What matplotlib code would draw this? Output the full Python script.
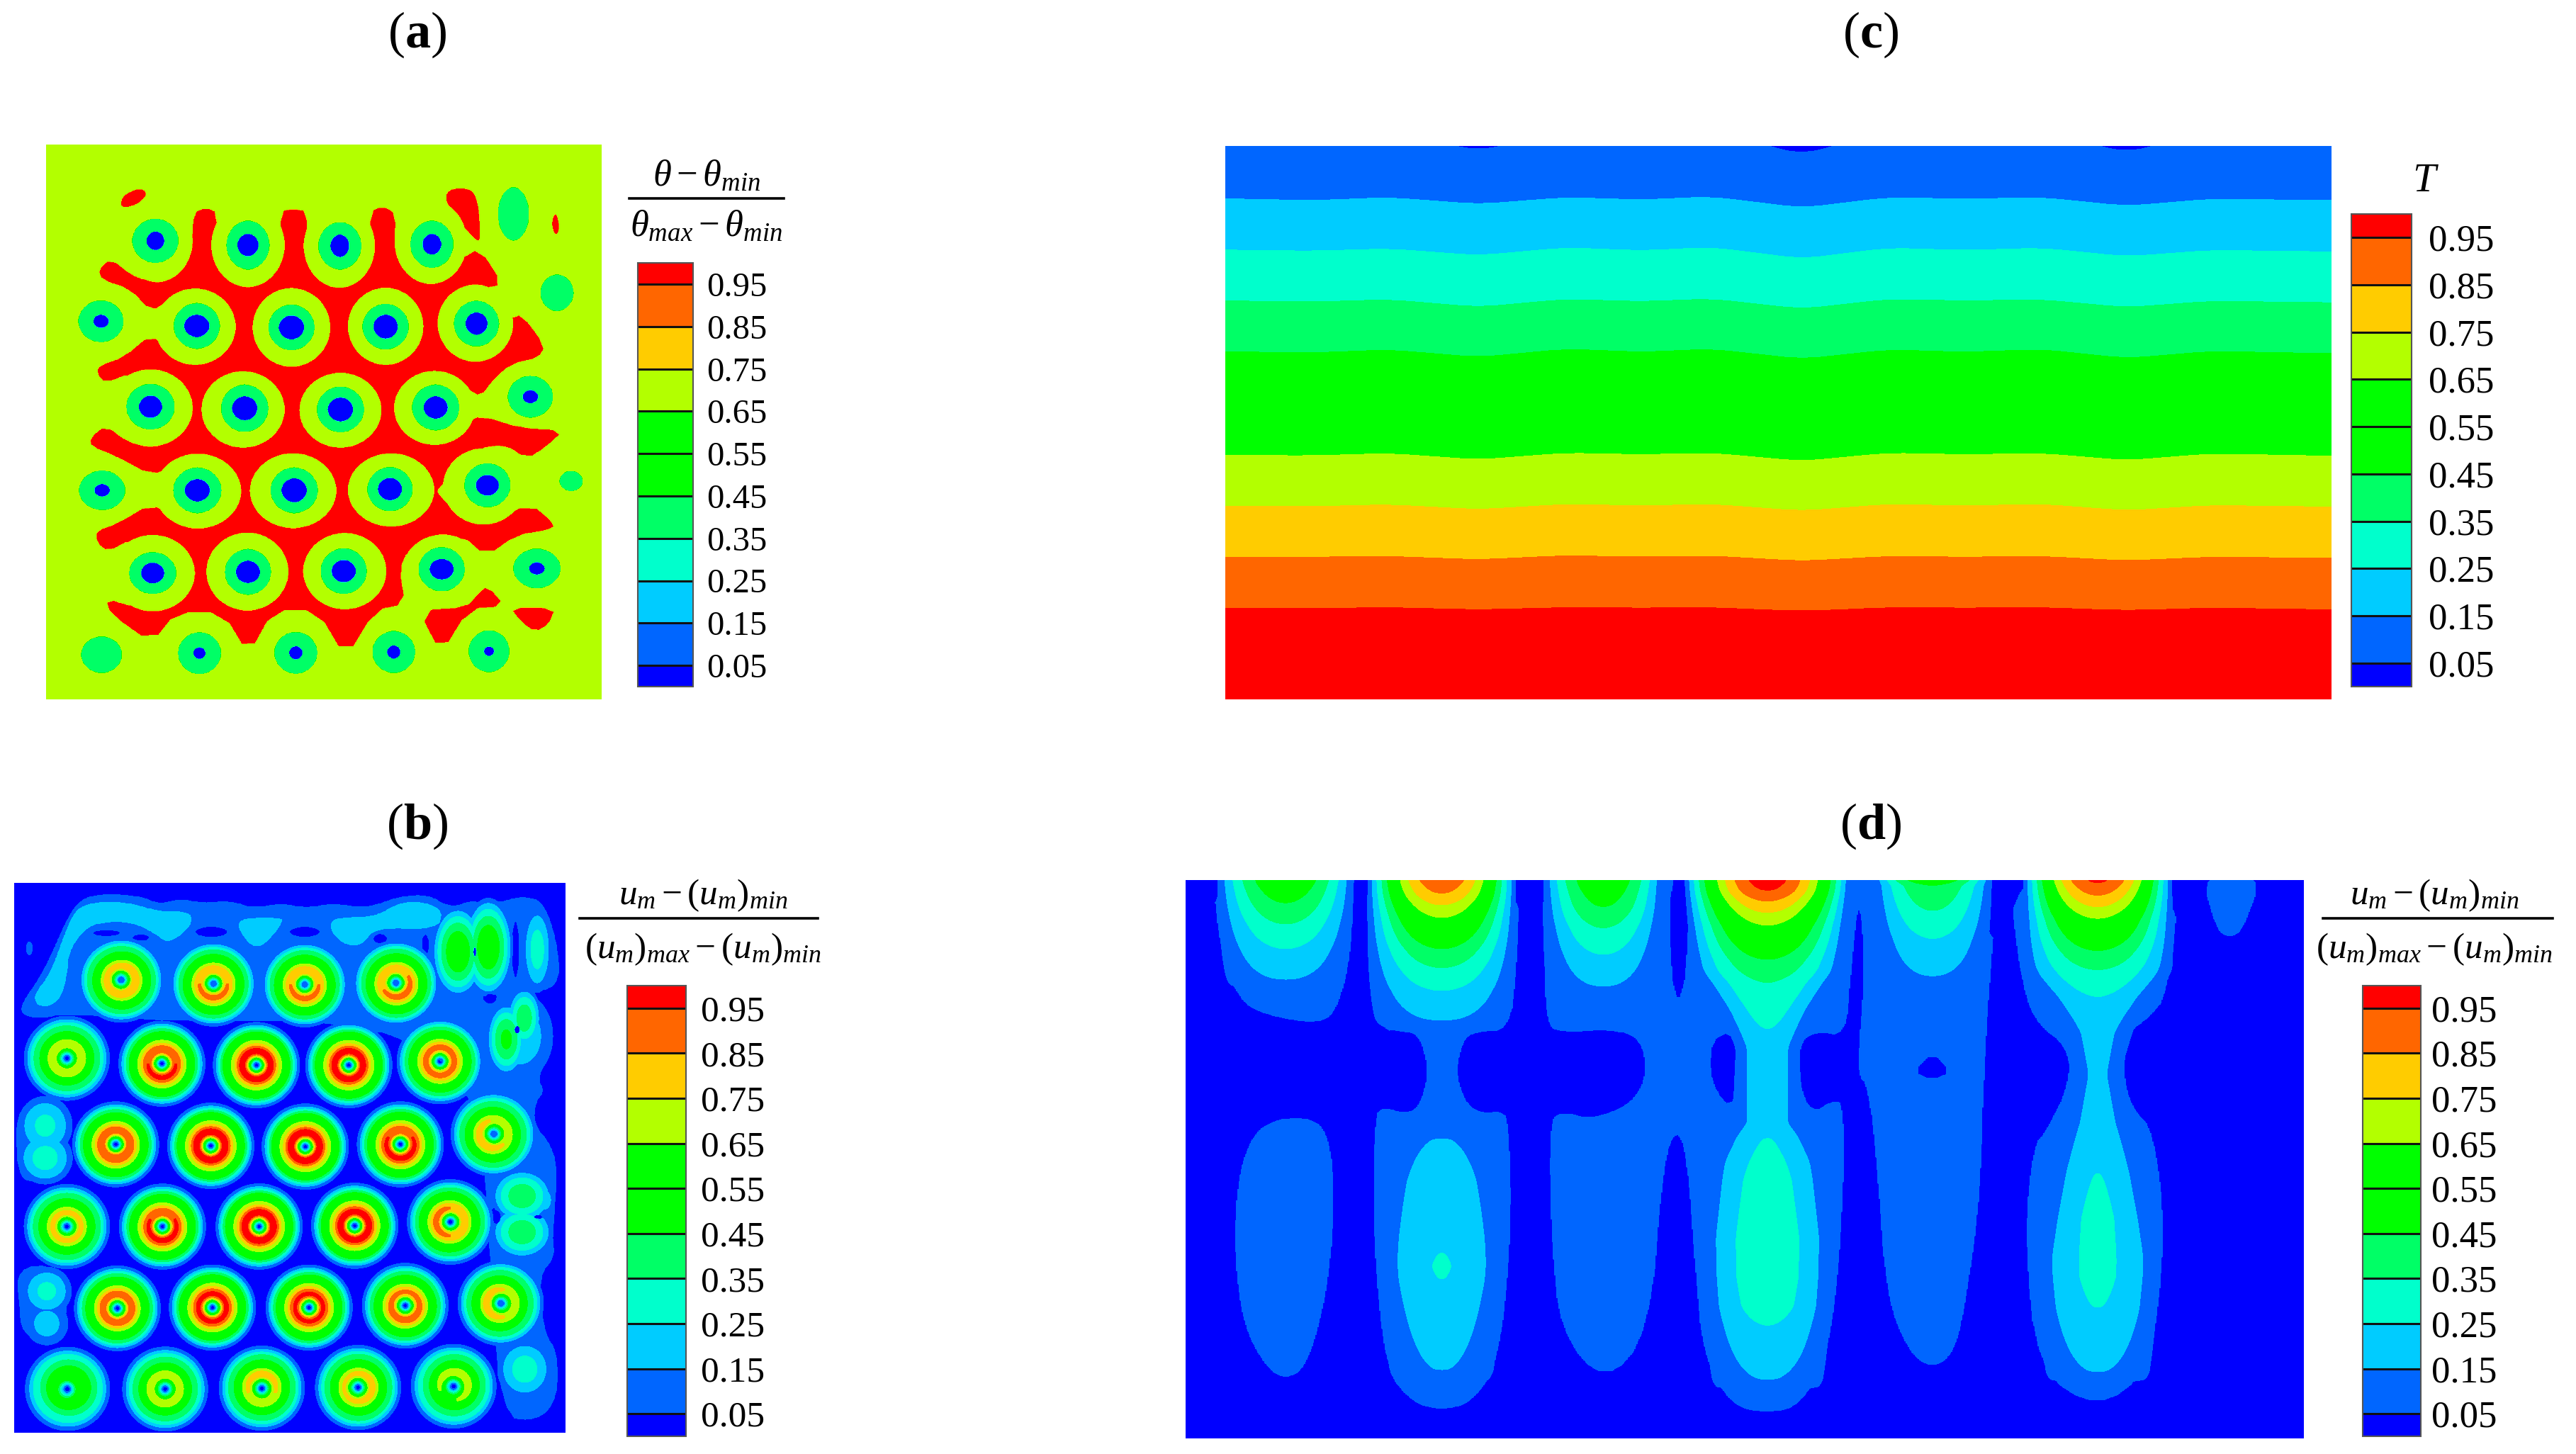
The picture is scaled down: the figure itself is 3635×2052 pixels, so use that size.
#!/usr/bin/env python

import numpy as np
import matplotlib
matplotlib.use('Agg')
import matplotlib.pyplot as plt
from matplotlib.lines import Line2D
from matplotlib.path import Path

plt.rcParams['font.family'] = ['Liberation Serif', 'DejaVu Serif']
plt.rcParams['mathtext.fontset'] = 'custom'
plt.rcParams['mathtext.rm'] = 'Liberation Serif'
plt.rcParams['mathtext.it'] = 'Liberation Serif:italic'
plt.rcParams['mathtext.bf'] = 'Liberation Serif:bold'

FIG_W, FIG_H = 3635, 2052

levels = [0, 0.05, 0.15, 0.25, 0.35, 0.45, 0.55, 0.65, 0.75, 0.85, 0.95, 1.0]
band_colors = ['#0000ff', '#0066ff', '#00ccff', '#00ffcc', '#00ff66', '#00ff00',
			   '#00ff00', '#b3ff00', '#ffcc00', '#ff6600', '#ff0000']
tick_values = [0.05, 0.15, 0.25, 0.35, 0.45, 0.55, 0.65, 0.75, 0.85, 0.95]

# panel (a): rolls
a_cell_x = [287, 457, 626, 795, 187, 363, 537, 710, 877, 278, 451, 627, 802, 976, 189, 364, 542, 718, 897,
			282, 457, 633, 813, 988, 368, 545, 725, 900, 188, 945, 1025, 1051]
a_cell_y = [297, 308, 310, 306, 506, 518, 522, 520, 512, 728, 732, 735, 730, 702, 945, 945, 945, 942, 932,
			1160, 1157, 1155, 1150, 1148, 1368, 1367, 1365, 1363, 1372, 227, 432, 921]
a_blue_rx = [17, 20, 18, 18, 15, 24, 24, 23, 21, 22, 24, 24, 23, 15, 15, 24, 24, 23, 22,
			 22, 23, 23, 23, 15, 12, 13, 13, 10, 0, 0, 0, 0]
a_blue_ry = [25, 30, 30, 28, 18, 30, 32, 32, 30, 30, 32, 32, 30, 18, 17, 30, 32, 30, 28,
			 28, 30, 30, 28, 17, 16, 18, 18, 13, 0, 0, 0, 0]
a_green_rx = [43, 40, 40, 40, 42, 43, 43, 43, 42, 45, 44, 44, 44, 42, 43, 45, 44, 42, 43,
			  44, 43, 43, 43, 44, 40, 40, 40, 38, 38, 29, 31, 22]
a_green_ry = [58, 64, 62, 62, 55, 60, 60, 60, 60, 60, 62, 60, 60, 55, 52, 60, 60, 58, 58,
			  55, 60, 60, 58, 52, 55, 55, 55, 55, 48, 70, 48, 27]

a_ring_x = [290, 457, 625, 793, 360, 537, 710, 875, 278, 448, 627, 800, 365, 540, 720, 890, 282, 456, 635, 815]
a_ring_y = [297, 308, 310, 300, 520, 522, 519, 511, 731, 735, 737, 731, 947, 946, 944, 935, 1160, 1156, 1155, 1155]
a_ring_rx = [66, 68, 66, 67, 75, 72, 70, 70, 78, 77, 76, 75, 80, 80, 80, 75, 78, 76, 77, 75]
a_ring_ry = [108, 110, 110, 110, 100, 103, 101, 101, 101, 100, 98, 97, 98, 98, 96, 100, 100, 102, 100, 96]

a_network = [(280, 1340), (205, 1265), (197, 1228), (250, 1250), (290, 1240), (290, 1090), (240, 1072), (200, 1103),
			 (180, 1080), (180, 1050), (215, 1035), (280, 980), (320, 1020), (320, 880), (280, 905), (215, 855),
			 (170, 830), (168, 810), (195, 778), (235, 820), (270, 832), (290, 800), (290, 660), (240, 640),
			 (195, 665), (180, 640), (185, 622), (230, 600), (280, 540), (310, 590), (310, 450), (280, 480),
			 (240, 420), (190, 398), (183, 372), (205, 345), (240, 385), (270, 402), (300, 330), (355, 300),
			 (358, 225), (380, 212), (400, 225), (395, 320), (450, 340), (518, 320), (518, 222), (540, 215),
			 (565, 222), (565, 320), (625, 340), (682, 320), (683, 222), (705, 208), (728, 228), (725, 320),
			 (795, 340), (850, 345), (882, 318), (925, 410), (885, 420), (940, 500), (960, 490), (1002, 570),
			 (990, 600), (940, 615), (905, 660), (885, 700), (860, 680), (860, 770), (885, 752), (960, 785),
			 (1035, 790), (1005, 830), (970, 862), (930, 825), (880, 835), (860, 860), (805, 940), (805, 955),
			 (850, 1020), (905, 1030), (975, 980), (1022, 1035), (1005, 1048), (950, 1060), (895, 1115), (850, 1060),
			 (800, 1080), (750, 1100), (735, 1150), (745, 1240), (690, 1255), (637, 1380), (585, 1255), (503, 1255),
			 (458, 1370), (412, 1262), (325, 1260)]
a_triangle = [(772, 1258), (860, 1250), (880, 1215), (897, 1195), (928, 1245), (862, 1252), (812, 1368)]
a_corner = [(940, 1250), (1020, 1252), (1010, 1290), (985, 1312), (960, 1285)]
a_top_drop = [(820, 170), (850, 158), (878, 175), (885, 295), (875, 295), (825, 210)]
a_top_left = [(222, 210), (228, 180), (258, 160), (273, 175), (250, 205)]
a_top_right = [(1017, 240), (1023, 225), (1029, 260), (1024, 283), (1017, 265)]

# panel (b): velocity rings
b_cell_x = [222, 392, 560, 728, 122, 297, 471, 641, 809, 212, 387, 561, 736, 908, 122, 298, 476, 652, 828,
			215, 390, 568, 745, 921, 123, 303, 481, 658, 834]
b_cell_y = [322, 332, 334, 330, 528, 542, 546, 546, 536, 754, 758, 760, 754, 727, 970, 970, 970, 968, 958,
			1185, 1183, 1183, 1178, 1172, 1397, 1397, 1395, 1393, 1390]
b_cell_peak = [0.8, 0.85, 0.85, 0.85, 0.74, 0.95, 0.99, 0.99, 0.88, 0.93, 1.0, 1.0, 0.96, 0.76, 0.77, 0.96, 1.0,
			   0.99, 0.85, 0.9, 0.97, 0.96, 0.88, 0.76, 0.6, 0.72, 0.76, 0.77, 0.68]
b_cell_mod = [0.03, 0.03, 0.03, 0.04, 0.0, 0.02, 0.0, 0.0, 0.0, 0.02, 0.0, 0.0, 0.02, 0.05, 0.0, 0.02, 0.0,
			  0.0, 0.04, 0.0, 0.0, 0.0, 0.02, 0.05, 0.08, 0.0, 0.04, 0.02, 0.06]
b_cell_dir = [45, 90, 90, 60, 0, 90, 0, 0, 0, 90, 0, 0, 90, 150, 0, 90, 0, 0, 180, 0, 0, 0, 90, 180, -45, 0, -90, 0, -60]
b_radial_r = [0, 0.05, 0.08, 0.1, 0.12, 0.14, 0.19, 0.21, 0.24, 0.27, 0.3, 0.36, 0.41, 0.46, 0.52, 0.6, 0.8, 0.85, 0.9, 0.95, 1.02, 1.12]
b_radial_u = [0, 0.05, 0.15, 0.25, 0.35, 0.45, 0.65, 0.75, 0.85, 0.95, 1.0, 1.0, 0.95, 0.85, 0.75, 0.65, 0.45, 0.35, 0.25, 0.15, 0.05, 0]

b_blob_x = [842, 898, 988, 955, 931, 964, 870, 82, 82, 85, 85, 960, 960, 1000, 965, 975, 53]
b_blob_y = [248, 236, 242, 470, 478, 422, 240, 705, 790, 1140, 1225, 890, 985, 900, 1345, 1440, 239]
b_blob_rx = [50, 47, 29, 70, 38, 33, 75, 55, 55, 50, 45, 60, 60, 20, 55, 40, 7]
b_blob_ry = [125, 135, 124, 130, 100, 85, 140, 85, 75, 70, 65, 75, 75, 40, 85, 40, 22]
b_blob_peak = [0.55, 0.55, 0.3, 0.22, 0.48, 0.42, 0.22, 0.28, 0.3, 0.28, 0.2, 0.42, 0.42, 0.25, 0.3, 0.12, 0.12]

b_hole_x = [195, 258, 388, 560, 699, 782, 948, 901, 951, 873, 912, 990]
b_hole_y = [199, 211, 196, 196, 214, 230, 242, 369, 453, 248, 945, 945]
b_hole_rx = [25, 16, 30, 28, 13, 7, 7, 13, 8, 4, 13, 12]
b_hole_ry = [9, 9, 14, 14, 13, 28, 75, 16, 15, 19, 26, 8]

b_outer = [(36, 391), (43, 416), (79, 422), (119, 409), (300, 430), (700, 430), (880, 600), (900, 1000), (920, 1470), (990, 1480),
		   (1025, 1420), (1025, 1300), (1000, 1250), (990, 1100), (1020, 1050), (1015, 1000), (1025, 830), (1015, 760), (980, 700),
		   (985, 640), (1001, 614), (988, 583), (1007, 521), (1014, 428), (968, 354), (1027, 341), (1027, 242),
		   (1001, 118), (961, 102), (921, 118), (875, 124), (822, 130), (789, 99), (736, 102), (676, 134), (610, 121),
		   (563, 134), (517, 121), (464, 134), (424, 115), (371, 121), (331, 109), (291, 124), (258, 102), (185, 96),
		   (146, 112), (122, 164), (79, 304)]
b_left_upper = [(30, 640), (110, 650), (130, 800), (60, 860), (30, 830)]
b_left_lower = [(30, 1080), (100, 1070), (130, 1180), (90, 1280), (40, 1250), (35, 1180)]
b_band_left = [(66, 385), (63, 360), (93, 304), (119, 199), (139, 137), (172, 118), (232, 118), (291, 143), (345, 143),
			   (354, 168), (331, 205), (305, 223), (285, 199), (245, 171), (199, 168), (159, 180), (126, 242), (122, 304),
			   (112, 366), (86, 394)]
b_band_mid = [(431, 161), (517, 158), (517, 174), (490, 223), (470, 236), (451, 217)]
b_band_right = [(606, 174), (623, 158), (689, 158), (736, 118), (782, 118), (815, 143), (802, 189), (689, 183), (666, 230),
				(636, 230), (613, 202)]

# panel (c): temperature layers, depth of each contour along the cell
c_x = [27, 140, 240, 357, 470, 570, 660, 778, 890, 990, 1090, 1200, 1310, 1467]
c_t05 = [-10, -10, -10, 48, -10, -10, -10, 58, -10, -10, -10, 53, -10, -10]
c_t15 = [175, 180, 172, 190, 172, 178, 170, 200, 172, 176, 172, 195, 176, 180]
c_t25 = [313, 316, 310, 328, 307, 315, 306, 337, 308, 314, 308, 331, 314, 318]
c_t35 = [450, 453, 447, 467, 446, 452, 445, 472, 446, 450, 447, 468, 451, 455]
c_t45 = [587, 590, 582, 602, 580, 588, 580, 607, 582, 588, 581, 605, 586, 592]
c_t55 = [726, 728, 722, 740, 720, 726, 720, 744, 721, 726, 721, 742, 724, 730]
c_t65 = [866, 867, 861, 878, 860, 864, 860, 882, 860, 864, 861, 880, 862, 868]
c_t75 = [1003, 1004, 999, 1012, 998, 1002, 998, 1016, 998, 1002, 998, 1015, 1001, 1005]
c_t85 = [1140, 1140, 1138, 1147, 1136, 1140, 1137, 1151, 1138, 1140, 1138, 1150, 1140, 1143]
c_t95 = [1278, 1278, 1276, 1281, 1276, 1277, 1276, 1285, 1276, 1277, 1276, 1283, 1277, 1281]

# panel (d): velocity in the vertical section
d_col_x = [122, 297, 478, 662, 847, 1032]
d_y = [[60, 120, 175, 240, 322, 345],
	   [60, 95, 125, 158, 240, 290, 350, 430, 470, 700, 737, 850, 1040, 1075, 1110, 1350, 1380],
	   [60, 130, 185, 255, 340, 365],
	   [60, 88, 115, 145, 178, 268, 328, 450, 500, 700, 737, 850, 1000, 1100, 1180, 1230, 1375, 1400],
	   [60, 70, 140, 213, 313, 340],
	   [60, 100, 130, 160, 245, 295, 365, 460, 570, 700, 830, 950, 1100, 1185, 1355, 1380]]
d_u = [[0.55, 0.45, 0.35, 0.25, 0.15, 0.1],
	   [0.93, 0.85, 0.75, 0.65, 0.45, 0.35, 0.25, 0.15, 0.03, 0.03, 0.15, 0.2, 0.25, 0.255, 0.25, 0.15, 0.1],
	   [0.55, 0.45, 0.35, 0.25, 0.15, 0.1],
	   [1.0, 0.95, 0.85, 0.75, 0.65, 0.45, 0.35, 0.25, 0.22, 0.2, 0.25, 0.29, 0.31, 0.31, 0.29, 0.25, 0.15, 0.1],
	   [0.55, 0.45, 0.35, 0.25, 0.15, 0.1],
	   [0.97, 0.85, 0.75, 0.65, 0.45, 0.35, 0.25, 0.18, 0.17, 0.19, 0.25, 0.27, 0.27, 0.25, 0.15, 0.1]]
d_w_y = [[60, 345],
		 [60, 430, 740, 1000, 1380],
		 [60, 365],
		 [60, 300, 400, 500, 700, 800, 1000, 1400],
		 [60, 340],
		 [60, 300, 430, 570, 700, 1050, 1380]]
d_w = [[80, 80],
	   [85, 90, 76, 78, 70],
	   [70, 70],
	   [95, 90, 60, 40, 45, 70, 80, 75],
	   [70, 70],
	   [85, 90, 50, 29, 43, 76, 70]]

d_col_a = [(40, 40), (50, 250), (70, 375), (100, 415), (160, 438), (180, 400), (195, 250), (197, 40)]
d_col_a_low = [(145, 685), (110, 690), (85, 730), (68, 850), (65, 1050), (75, 1230), (100, 1340), (122, 1372), (145, 1340),
			   (165, 1180), (175, 1000), (175, 800), (165, 710)]
d_col_b = [(217, 40), (220, 250), (225, 455), (260, 452), (275, 480), (283, 570), (272, 660), (255, 675), (232, 658),
		   (222, 680), (220, 1000), (235, 1350), (265, 1435), (297, 1452), (330, 1435), (360, 1330), (375, 1000),
		   (372, 690), (362, 668), (345, 675), (325, 655), (312, 570), (320, 480), (335, 457), (372, 455), (380, 300),
		   (385, 40)]
d_col_c = [(410, 40), (412, 250), (415, 440), (430, 460), (490, 452), (520, 475), (528, 570), (510, 650), (465, 690),
		   (430, 668), (418, 700), (420, 1000), (430, 1250), (480, 1385), (530, 1250), (545, 800), (560, 710), (572, 780),
		   (582, 1100), (590, 1300), (620, 1440), (662, 1462), (700, 1440), (730, 1300), (745, 1000), (748, 650),
		   (735, 640), (712, 675), (697, 600), (697, 490), (715, 457), (750, 470), (755, 300), (765, 85), (772, 300),
		   (762, 570), (775, 600), (785, 800), (795, 1150), (820, 1300), (847, 1345), (872, 1300), (885, 1150), (900, 900),
		   (905, 500), (920, 40)]
d_col_d = [(932, 40), (945, 300), (960, 430), (1000, 500), (1000, 600), (975, 720), (960, 760), (950, 1000), (965, 1350),
		   (1032, 1452), (1090, 1350), (1108, 1000), (1095, 720), (1070, 660), (1060, 570), (1065, 460), (1090, 420),
		   (1110, 360), (1125, 40)]
d_col_e = [(1148, 40), (1165, 190), (1180, 212), (1195, 190), (1217, 40)]
d_spike = [(553, 40), (553, 300), (562, 390), (572, 300), (575, 40)]
d_hole_left = [(620, 457), (635, 520), (633, 600), (620, 657), (605, 620), (597, 560), (600, 480)]
d_hole_right = [(847, 512), (868, 565), (847, 587), (825, 565)]


def panel_axes(fig, x0, y0, x1, y1):
	""" Creates axes from a box given in picture pixels

	"""
	return fig.add_axes([x0 / FIG_W, 1 - y1 / FIG_H, (x1 - x0) / FIG_W, (y1 - y0) / FIG_H])


def smooth_outline(pts, n=2):
	""" Rounds the corners of a closed outline (corner cutting)

	"""
	pts = np.array(pts, dtype=float)
	for i in range(n):
		nxt = np.roll(pts, -1, axis=0)
		pts = np.column_stack((0.75 * pts + 0.25 * nxt, 0.25 * pts + 0.75 * nxt)).reshape(-1, 2)
	return pts


def inside(pts, X, Y, n=2):
	path = Path(smooth_outline(pts, n))
	return path.contains_points(np.column_stack((X.ravel(), Y.ravel()))).reshape(X.shape)


def grid(x0, x1, y0, y1, nx=1000, ny=1000):
	return np.meshgrid(np.linspace(x0, x1, nx), np.linspace(y0, y1, ny))


def ell(X, Y, cx, cy, rx, ry):
	return ((X - cx) / rx) ** 2 + ((Y - cy) / ry) ** 2


def box_smooth(curve, half):
	pad = np.pad(curve, half, mode='edge')
	return np.convolve(pad, np.ones(2 * half + 1) / (2 * half + 1), mode='valid')


def field_a(X, Y):
	Z = np.full(X.shape, 0.7)
	for pts in (a_network, a_triangle, a_corner):
		Z[inside(pts, X, Y, 1)] = 0.98
	for pts in (a_top_drop, a_top_left, a_top_right):
		Z[inside(pts, X, Y, 2)] = 0.98
	for cx, cy, rx, ry in zip(a_ring_x, a_ring_y, a_ring_rx, a_ring_ry):
		Z[ell(X, Y, cx, cy, rx, ry) < 1] = 0.7
	for i in range(len(a_cell_x)):
		Z[ell(X, Y, a_cell_x[i], a_cell_y[i], a_green_rx[i], a_green_ry[i]) < 1] = 0.4
		if a_blue_rx[i] > 0:
			Z[ell(X, Y, a_cell_x[i], a_cell_y[i], a_blue_rx[i], a_blue_ry[i]) < 1] = 0.02
	return Z


def field_b(X, Y):
	Z = np.zeros(X.shape)
	for pts in (b_outer, b_left_upper, b_left_lower):
		Z[inside(pts, X, Y)] = 0.1
	for pts in (b_band_left, b_band_mid, b_band_right):
		Z[inside(pts, X, Y)] = 0.2
	for i in range(len(b_hole_x)):
		r2 = ell(X, Y, b_hole_x[i], b_hole_y[i], b_hole_rx[i], b_hole_ry[i])
		Z[r2 < 1] = 0.0
	for i in range(len(b_blob_x)):
		r2 = ell(X, Y, b_blob_x[i], b_blob_y[i], b_blob_rx[i], b_blob_ry[i])
		Z = np.maximum(Z, b_blob_peak[i] * np.clip(1 - r2, 0, 1))
	for i in range(len(b_hole_x)):
		r2 = ell(X, Y, b_hole_x[i], b_hole_y[i], b_hole_rx[i], b_hole_ry[i])
		Z[r2 < 0.5] = 0.0
	for i in range(len(b_cell_x)):
		r = np.sqrt(ell(X, Y, b_cell_x[i], b_cell_y[i], 78, 110))
		angle = np.arctan2((Y - b_cell_y[i]) / 110, (X - b_cell_x[i]) / 78)
		peak = b_cell_peak[i] * (1 + b_cell_mod[i] * np.cos(angle - np.radians(b_cell_dir[i])))
		Z = np.maximum(Z, peak * np.interp(r, b_radial_r, b_radial_u, right=0))
	return Z


def field_c(X, Y):
	depth = [[-100] * len(c_x), c_t05, c_t15, c_t25, c_t35, c_t45, c_t55, c_t65, c_t75, c_t85, c_t95, [1700] * len(c_x)]
	curves = np.array([box_smooth(np.interp(X[0], c_x, d), 20) for d in depth])
	Z = np.zeros(X.shape)
	for j in range(X.shape[1]):
		Z[:, j] = np.interp(Y[:, j], curves[:, j], levels)
	return Z


def field_d(X, Y):
	Z = np.zeros(X.shape)
	for pts in (d_col_a, d_col_a_low, d_col_b, d_col_c, d_col_d, d_col_e):
		Z[inside(pts, X, Y, 2)] = 0.1
	for pts in (d_spike, d_hole_left, d_hole_right):
		Z[inside(pts, X, Y, 1)] = 0.0
	y_fine = Y[:, 0]
	for i in range(len(d_col_x)):
		c = box_smooth(np.interp(y_fine, d_y[i], d_u[i], right=0), 5)
		w = box_smooth(np.interp(y_fine, d_w_y[i], d_w[i]), 12)
		Z = np.maximum(Z, c[:, None] * np.clip(1 - ((X - d_col_x[i]) / w[:, None]) ** 2, 0, 1))
	return Z


def draw_panel(fig, box, xlim, ylim, field, bar_box, tick_size, tick_pad):
	ax = panel_axes(fig, *box)
	X, Y = grid(xlim[0], xlim[1], ylim[0], ylim[1])
	Z = np.clip(field(X, Y), 0, 1)
	cs = ax.contourf(X, Y, Z, levels=levels, colors=band_colors)
	ax.set_xlim(*xlim)
	ax.set_ylim(ylim[1], ylim[0])
	ax.axis('off')

	cax = panel_axes(fig, *bar_box)
	cb = fig.colorbar(cs, cax=cax, ticks=tick_values, spacing='proportional', drawedges=True)
	cb.ax.tick_params(length=0, pad=tick_pad, labelsize=tick_size)
	cb.ax.set_yticklabels(['%.2f' % t for t in tick_values])
	cb.dividers.set_color('#111111')
	cb.dividers.set_linewidth(2.2)
	cb.outline.set_edgecolor('#555555')
	cb.outline.set_linewidth(1.5)
	return ax


def fraction(fig, xc, x0, x1, y_top, y_line, y_bot, top, bottom, size):
	fig.text(xc / FIG_W, 1 - y_top / FIG_H, top, ha='center', va='center', fontsize=size)
	fig.add_artist(Line2D([x0 / FIG_W, x1 / FIG_W], [1 - y_line / FIG_H] * 2, color='black', lw=2.6))
	fig.text(xc / FIG_W, 1 - y_bot / FIG_H, bottom, ha='center', va='center', fontsize=size)


def main():
	fig = plt.figure(figsize=(FIG_W / 100, FIG_H / 100), dpi=100)

	draw_panel(fig, (65, 204, 849, 987), (86, 1107), (47, 1488), field_a, (900, 371, 978, 969), 35, 14)
	draw_panel(fig, (20, 1246, 798, 2022), (25, 1040), (67, 1512), field_b, (885, 1391, 968, 2027), 37, 15)
	draw_panel(fig, (1729, 206, 3290, 987), (27, 1467), (33, 1523), field_c, (3318, 302, 3403, 969), 38, 17)
	draw_panel(fig, (1673, 1242, 3251, 2030), (10, 1263), (60, 1528), field_d, (3334, 1391, 3416, 2027), 38, 11)

	for label, xc, yc in (('a', 589, 49), ('b', 589, 1166), ('c', 2640, 49), ('d', 2640, 1166)):
		fig.text(xc / FIG_W, 1 - yc / FIG_H, '($\\mathbf{%s}$)' % label, ha='center', va='center', fontsize=52)

	fraction(fig, 997, 888, 1106, 250, 280, 320,
			 r'$\theta - \theta_{min}$', r'$\theta_{max} - \theta_{min}$', 38)
	fraction(fig, 992, 818, 1154, 1264, 1296, 1340,
			 r'$u_m - (u_m)_{min}$', r'$(u_m)_{max} - (u_m)_{min}$', 37)
	fraction(fig, 3435, 3278, 3602, 1264, 1296, 1340,
			 r'$u_m - (u_m)_{min}$', r'$(u_m)_{max} - (u_m)_{min}$', 37)
	fig.text(3423 / FIG_W, 1 - 256 / FIG_H, r'$T$', ha='center', va='center', fontsize=42)

	fig.savefig('out.png', dpi=100)


if __name__ == '__main__':
	main()
